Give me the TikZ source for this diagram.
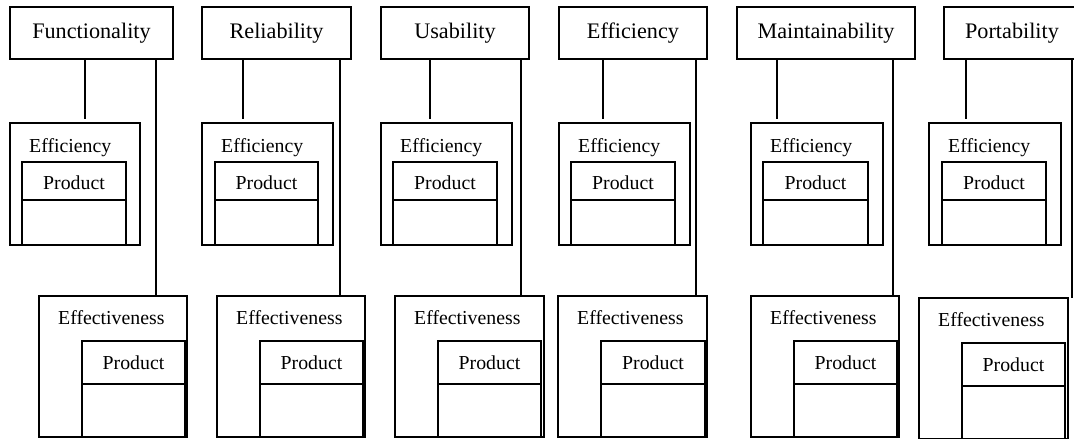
\documentclass[tikz,border=0pt]{standalone}
\usepackage{fontspec}
\setmainfont{Liberation Serif}
\usetikzlibrary{fit,calc}
\begin{document}
\begin{tikzpicture}[x=1pt,y=-1pt,
  box/.style={draw, line width=1.4pt, inner sep=0pt, outer sep=0pt},
  inbox/.style={draw, line width=1.8pt, inner sep=0pt, outer sep=0pt},
  conn/.style={line width=1.9pt},
  divider/.style={line width=1.8pt},
  head/.style={font=\fontsize{22.2}{25}\selectfont, anchor=base, inner sep=0pt},
  lab/.style={font=\fontsize{19.8}{22}\selectfont, anchor=base west, inner sep=0pt},
  plab/.style={font=\fontsize{19.8}{22}\selectfont, anchor=base, inner sep=0pt}]
\useasboundingbox (0,0) rectangle (1074,439);
\clip (0,0) rectangle (1074,439);
% one column per quality characteristic:
% heading box, Efficiency box with its Product compartment box,
% Effectiveness box with its Product compartment box
\foreach \n/\lab/\tl/\tr/\cl/\cr/\el/\er/\il/\ir/\vl/\vr/\wl/\wr/\vt in {
  1/Functionality/10/173/85/156/10/140/22/126/39/187/82/185/296,
  2/Reliability/202/351/243/340/202/333/215/318/217/365/260/363/296,
  3/Usability/381/529/430/521/381/512/393/497/395/544/438/541/296,
  4/Efficiency/559/707/603/696/559/690/571/675/558/707/601/705/296,
  5/Maintainability/737/915/777/893/751/883/763/868/751/899/794/897/296,
  6/Portability/944/1080/966/1072/929/1061/942/1046/919/1068/962/1065/298}
{
  % heading
  \path (\tl,7) coordinate (ta\n) (\tr,59) coordinate (tb\n);
  \node[box, fit=(ta\n)(tb\n)] (top\n) {};
  \node[head] (toplab\n) at ({(\tl+\tr)/2},38) {\lab};
  % Efficiency
  \path (\el,123) coordinate (ea\n) (\er,245) coordinate (eb\n);
  \node[box, fit=(ea\n)(eb\n)] (eff\n) {};
  \node[lab] (efflab\n) at (\el+19,152) {Efficiency};
  \path (\il,162) coordinate (pa\n) (\ir,245) coordinate (pb\n);
  \node[inbox, fit=(pa\n)(pb\n)] (pe\n) {};
  \node[plab] (pelab\n) at ({(\il+\ir)/2},189.5) {Product};
  \draw[divider] ($(pe\n.north west)+(0,38)$) -- ($(pe\n.north east)+(0,38)$);
  % Effectiveness
  \path (\vl,\vt) coordinate (va\n) (\vr,\vt+141) coordinate (vb\n);
  \node[box, fit=(va\n)(vb\n)] (effv\n) {};
  \node[lab] (effvlab\n) at (\vl+19,\vt+28) {Effectiveness};
  \path (\wl,\vt+45) coordinate (qa\n) (\wr,\vt+141) coordinate (qb\n);
  \node[inbox, fit=(qa\n)(qb\n)] (pv\n) {};
  \node[plab] (pvlab\n) at ({(\wl+\wr)/2},\vt+73) {Product};
  \draw[divider] ($(pv\n.north west)+(0,43)$) -- ($(pv\n.north east)+(0,43)$);
  % connectors
  \coordinate (cL\n) at (\cl,0);
  \coordinate (cR\n) at (\cr,0);
  \draw[conn, shorten >=4.5pt] (top\n.south -| cL\n) -- (eff\n.north -| cL\n);
  \draw[conn] (top\n.south -| cR\n) -- (effv\n.north -| cR\n);
}
\end{tikzpicture}
\end{document}
